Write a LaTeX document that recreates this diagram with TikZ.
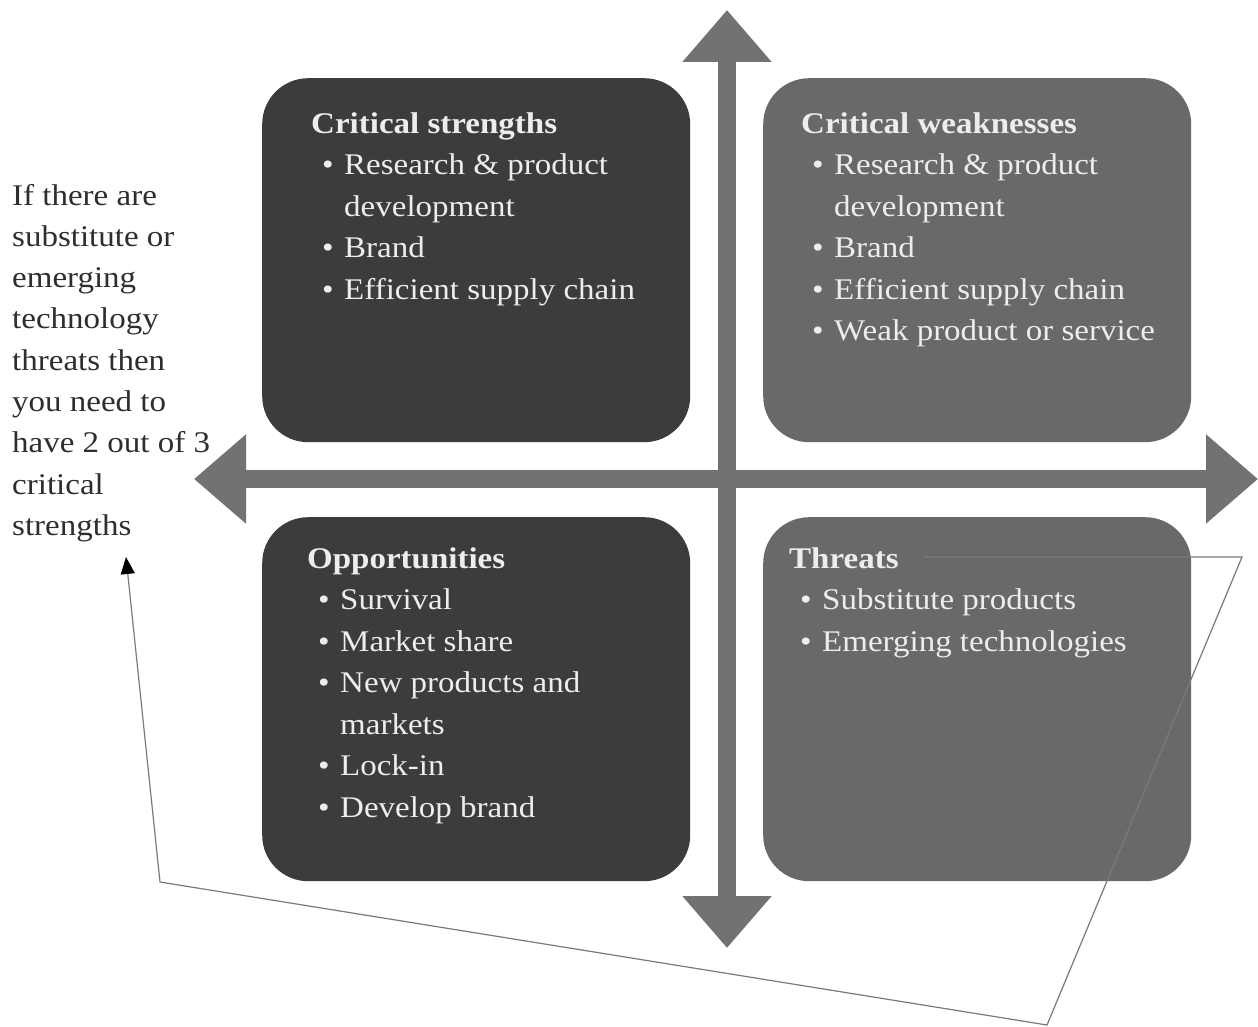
\documentclass[tikz,border=0pt]{standalone}
\usepackage{fontspec}
\setmainfont{Liberation Serif}[FakeStretch=1.1]
\usetikzlibrary{arrows.meta, positioning}

\definecolor{darkbox}{HTML}{3C3C3D}
\definecolor{greybox}{HTML}{68696B}
\definecolor{axisgrey}{HTML}{717274}
\definecolor{boxtext}{HTML}{EDEDED}
\definecolor{notetext}{HTML}{2E2E2E}
\definecolor{linkgrey}{HTML}{7A7A7A}

\newcommand{\bitem}{\hspace*{11pt}\makebox[22pt][l]{\textbullet}}
\newcommand{\bcont}{\hspace*{33pt}}

\begin{document}
\begin{tikzpicture}[x=1pt, y=-1pt,
    quad/.style={rectangle, rounded corners=46pt, minimum width=428pt, minimum height=364pt, inner sep=0pt, anchor=north west},
    listtext/.style={anchor=base west, align=left, inner sep=0pt, text=boxtext, font=\fontsize{30}{41.5}\selectfont},
    axis/.style={draw=axisgrey, line width=18pt, {Triangle[width=86pt,length=52pt]}-{Triangle[width=86pt,length=52pt]}},
    note/.style={anchor=base west, align=left, inner sep=0pt, text=notetext, font=\fontsize{30}{41.3}\selectfont},
    link/.style={draw=linkgrey, line width=1.2pt, -{Triangle[width=14pt,length=17pt,color=black]}}]

    \useasboundingbox (0,0) rectangle (1258,1027);

    % quadrants
    \node [quad, fill=darkbox] (str) at (262,78) {};
    \node [quad, fill=greybox] (weak) at (763,78) {};
    \node [quad, fill=darkbox] (opp) at (262,517) {};
    \node [quad, fill=greybox] (thr) at (763,517) {};

    % axes
    \coordinate (axtop) at (727,10);
    \coordinate (axbot) at (727,948);
    \coordinate (axleft) at (194,479);
    \coordinate (axright) at (1258,479);
    \draw [axis] (axbot) -- (axtop);
    \draw [axis] (axleft) -- (axright);

    % quadrant texts (placed by the baseline of their last line)
    \node [listtext] (strtext) at (311,299) {{\bfseries Critical strengths}\\
        \bitem Research \& product\\
        \bcont development\\
        \bitem Brand\\
        \bitem Efficient supply chain};
    \node [listtext] (weaktext) at (801,340.5) {{\bfseries Critical weaknesses}\\
        \bitem Research \& product\\
        \bcont development\\
        \bitem Brand\\
        \bitem Efficient supply chain\\
        \bitem Weak product or service};
    \node [listtext] (opptext) at (307,817) {{\bfseries Opportunities}\\
        \bitem Survival\\
        \bitem Market share\\
        \bitem New products and\\
        \bcont markets\\
        \bitem Lock-in\\
        \bitem Develop brand};
    \node [listtext] (thrtext) at (789,651) {{\bfseries Threats}\\
        \bitem Substitute products\\
        \bitem Emerging technologies};

    % side note
    \node [note] (side) at (12,535.4) {If there are\\substitute or\\emerging\\technology\\threats then\\you need to\\have 2 out of 3\\critical\\strengths};

    % link from threats back to the note
    \coordinate (lstart) at (925,557);
    \coordinate (l1) at (1242,557);
    \coordinate (l2) at (1047,1025);
    \coordinate (l3) at (160,882);
    \coordinate (ltip) at (126,557);
    \draw [link] (lstart) -- (l1) -- (l2) -- (l3) -- (ltip);
\end{tikzpicture}
\end{document}
